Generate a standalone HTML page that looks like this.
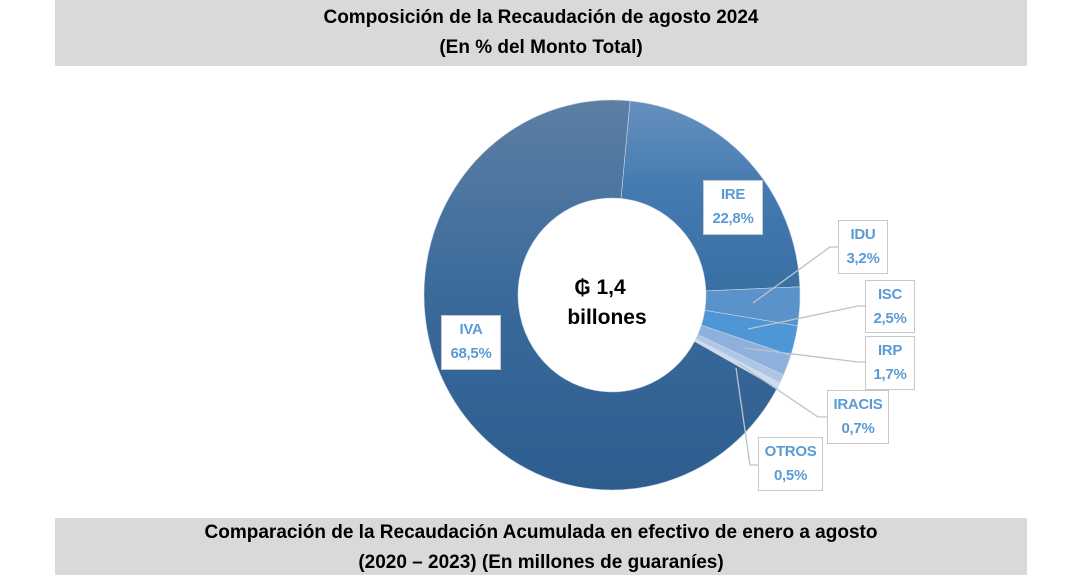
<!DOCTYPE html>
<html><head><meta charset="utf-8"><style>
html,body{margin:0;padding:0;background:#fff;}
body{width:1068px;height:583px;position:relative;overflow:hidden;font-family:"Liberation Sans",Arial,sans-serif;}
.band{position:absolute;left:55px;width:972px;background:#d9d9d9;text-align:center;font-weight:bold;font-size:19px;line-height:30px;color:#000;}
.lab{position:absolute;background:#fff;border:1.5px solid #c8c8c8;color:#5b9bd5;font-weight:bold;font-size:15px;line-height:24px;text-align:center;box-sizing:border-box;padding-top:2px;letter-spacing:-0.3px;}
</style></head><body>
<div class="band" style="top:0;height:66px;padding-top:3px;box-sizing:border-box;">Composición de la Recaudación de agosto 2024<br>(En % del Monto Total)</div>
<div class="band" style="top:518px;height:57px;padding-top:0px;box-sizing:border-box;">Comparación de la Recaudación Acumulada en efectivo de enero a agosto<br>(2020 – 2023) (En millones de guaraníes)</div>
<svg id="s" width="1068" height="583" style="position:absolute;left:0;top:0">
<defs>
<linearGradient id="gIVA" x1="0" y1="0" x2="0" y2="1"><stop offset="0" stop-color="#5c7fa3"/><stop offset="0.5" stop-color="#3a6a9b"/><stop offset="1" stop-color="#2e5e8f"/></linearGradient>
<linearGradient id="gIRE" x1="0" y1="0" x2="0" y2="1"><stop offset="0" stop-color="#6690bd"/><stop offset="0.5" stop-color="#4279b0"/><stop offset="1" stop-color="#3a6fa3"/></linearGradient>
</defs>
<g id="slices"></g>
<g stroke="#b9c3cf" stroke-width="1.3" fill="none">
<polyline points="753,303 830,247 838,247"/>
<polyline points="748,329 858,306 865,306"/>
<polyline points="744,348 858,362 865,362"/>
<polyline points="738,363 818,417 827,417"/>
<polyline points="736,368 750,465 758,465"/>
</g>
<text x="600" y="294" text-anchor="middle" font-family="Liberation Sans" font-weight="bold" font-size="21" fill="#000">₲ 1,4</text>
<text x="607" y="324" text-anchor="middle" font-family="Liberation Sans" font-weight="bold" font-size="21" fill="#000">billones</text>
</svg>
<div class="lab" style="left:703px;top:180px;width:60px;height:55px;">IRE<br>22,8%</div>
<div class="lab" style="left:838px;top:220px;width:50px;height:54px;">IDU<br>3,2%</div>
<div class="lab" style="left:865px;top:280px;width:50px;height:53px;">ISC<br>2,5%</div>
<div class="lab" style="left:865px;top:336px;width:50px;height:54px;">IRP<br>1,7%</div>
<div class="lab" style="left:827px;top:390px;width:62px;height:54px;">IRACIS<br>0,7%</div>
<div class="lab" style="left:758px;top:437px;width:65px;height:54px;">OTROS<br>0,5%</div>
<div class="lab" style="left:441px;top:315px;width:60px;height:55px;">IVA<br>68,5%</div>
<script>
(function(){
var cx=612,cy=295,rx=188,ry=195,ix=94,iy=97;
var data=[[22.8,"url(#gIRE)"],[3.2,"#5a92c9"],[2.5,"#4f96d6"],[1.7,"#8db1dc"],[0.7,"#adc6e5"],[0.5,"#d0dcee"],[68.6,"url(#gIVA)"]];
var a=5.5*Math.PI/180,g=document.getElementById("slices"),h="";
function p(ang,Rx,Ry){return [cx+Rx*Math.sin(ang),cy-Ry*Math.cos(ang)];}
data.forEach(function(d){
var b=a+d[0]/100*2*Math.PI,lg=(b-a)>Math.PI?1:0;
var o1=p(a,rx,ry),o2=p(b,rx,ry),i2=p(b,ix,iy),i1=p(a,ix,iy);
h+='<path d="M'+o1+' A'+rx+','+ry+' 0 '+lg+' 1 '+o2+' L'+i2+' A'+ix+','+iy+' 0 '+lg+' 0 '+i1+' Z" fill="'+d[1]+'" stroke="#c9d6e6" stroke-width="0.6"/>';
a=b;});
g.innerHTML=h;
})();
</script>
</body></html>
